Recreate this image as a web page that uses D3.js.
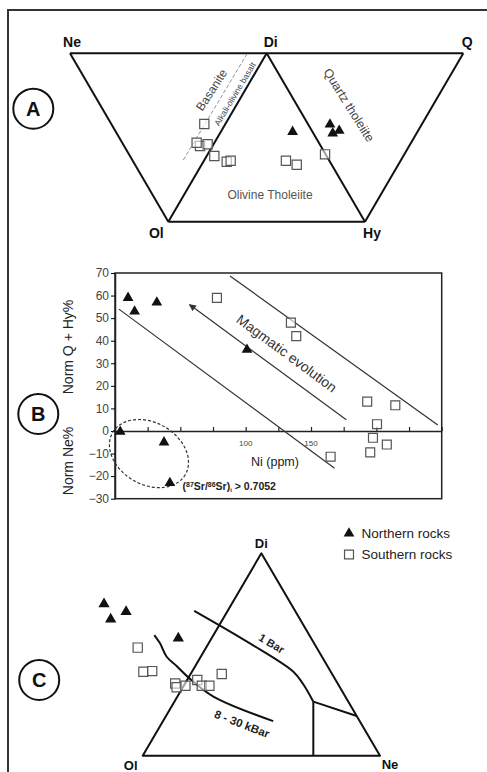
<!DOCTYPE html>
<html><head><meta charset="utf-8">
<script src="https://cdn.jsdelivr.net/npm/d3@7"></script>
<style>
html,body{margin:0;padding:0;background:#fff;}
svg{display:block;font-family:"Liberation Sans",Arial,sans-serif;}
</style></head>
<body>
<svg id="c" width="487" height="772"></svg>
<script>
// ---------------- DATA ----------------
// Panel A: projection coordinates (x: Ne=-100 .. Di=0 .. Q=100 ; y: Ol/Hy base=0 .. Di=100)
const aNorthX = [13.2, 32.2, 33.6, 36.9];
const aNorthY = [53.4, 57.8, 52.5, 54.0];
const aSouthX = [-31.7, -33.9, -35.6, -30.0, -26.6, -20.3, -18.3, 9.8, 15.3, 29.7];
const aSouthY = [58.0, 45.0, 46.9, 46.0, 39.0, 35.6, 36.2, 36.2, 33.8, 40.0];
const aVertexNames = ["Ne", "Di", "Q", "Ol", "Hy"];
const aVertexX = [-100, 0, 100, -50, 50];
const aVertexY = [100, 100, 100, 0, 0];
const aDashX = [-42.4, -9.8];
const aDashY = [36.6, 100];

// Panel B: Ni (ppm) vs Norm Q+Hy% (positive) / Norm Ne% (negative)
const bNorthNi = [10, 15, 32, 101, 4, 37.5, 42];
const bNorthNorm = [59, 53, 57, 36, -0.3, -5, -23];
const bSouthNi = [78, 134.6, 138.7, 193, 214.5, 200.5, 197.4, 195.3, 208, 165];
const bSouthNorm = [59, 48, 42, 13, 11.4, 3, -3, -9.5, -6, -11.4];
const bYTicks = [70, 60, 50, 40, 30, 20, 10, 0, -10, -20, -30];
const bXTicks = [0, 25, 50, 75, 100, 125, 150, 175, 200, 225, 250];
const bXTickLabels = [100, 150];
const bLowerLineNi = [3, 168], bLowerLineNorm = [54, -16.5];
const bArrowNi = [177, 57], bArrowNorm = [5, 56];
const bUpperLineNi = [88, 247], bUpperLineNorm = [68.7, 2.7];
const bEllipseNi = 26, bEllipseNorm = -10;

// Panel C: projection coordinates (x: Ol=0 .. Ne=100 ; y: base=0 .. Di=100)
const cNorthX = [-16.3, -7.0, -13.5, 15.0];
const cNorthY = [75.0, 71.1, 67.4, 58.0];
const cSouthX = [-2.1, 0.3, 4.0, 13.7, 14.3, 18.0, 23.0, 24.9, 28.1, 33.3];
const cSouthY = [53.4, 41.5, 41.8, 35.7, 33.8, 34.6, 37.4, 34.6, 34.6, 40.4];
const cVertexNames = ["Di", "Ol", "Ne"];
const cVertexX = [50, 0, 100];
const cVertexY = [100, 0, 0];
const c1BarX = [21.7, 45.2, 63.5, 67.6, 71.9];
const c1BarY = [71.6, 55.5, 41.5, 35.4, 26.7];
const cVertX = [71.9, 71.9], cVertY = [26.7, 0];
const cBranchX = [71.9, 90.2], cBranchY = [26.7, 19.6];
const cKbarX = [4.9, 7.3, 10.1, 14.3, 19.2, 29.8, 55.0];
const cKbarY = [59.6, 55.5, 48.9, 44.3, 38.7, 29.2, 17.1];

const legendLabels = ["Northern rocks", "Southern rocks"];

// ---------------- DRAW ----------------
const svg = d3.select("#c");
const INK = "#111";

// outer frame
svg.append("path").attr("d", "M8,772 L8,10 L487,10")
  .attr("fill", "none").attr("stroke", "#333").attr("stroke-width", 2);

function panelLetter(cx, cy, letter) {
  svg.append("circle").attr("cx", cx).attr("cy", cy).attr("r", 20)
    .attr("fill", "#fff").attr("stroke", INK).attr("stroke-width", 2);
  svg.append("text").attr("x", cx).attr("y", cy + 7).attr("text-anchor", "middle")
    .attr("font-size", 20).attr("font-weight", "bold").attr("fill", INK).text(letter);
}

function drawTri(g, xs, ys, sx, sy, size) {
  g.selectAll(null).data(xs).enter().append("path")
    .attr("d", d3.symbol().type(d3.symbolTriangle).size(size || 46)())
    .attr("transform", (d, i) => `translate(${sx(d)},${sy(ys[i])})`)
    .attr("fill", INK);
}
function drawSq(g, xs, ys, sx, sy, size) {
  g.selectAll(null).data(xs).enter().append("path")
    .attr("d", d3.symbol().type(d3.symbolSquare).size(size || 78)())
    .attr("transform", (d, i) => `translate(${sx(d)},${sy(ys[i])})`)
    .attr("fill", "#fff").attr("fill-opacity", 0.6).attr("stroke", "#555").attr("stroke-width", 1.2);
}

// ===== Panel A =====
const xA = d3.scaleLinear().domain([-100, 100]).range([70, 463.3]);
const yA = d3.scaleLinear().domain([0, 100]).range([221.7, 53.3]);
const gA = svg.append("g");
const vA = {};
aVertexNames.forEach((n, i) => vA[n] = [xA(aVertexX[i]), yA(aVertexY[i])]);
const lineA = d3.line();
[["Ne", "Q"], ["Ne", "Ol"], ["Ol", "Hy"], ["Hy", "Q"], ["Ol", "Di"], ["Di", "Hy"]].forEach(([p, q]) => {
  gA.append("path").attr("d", lineA([vA[p], vA[q]])).attr("stroke", INK)
    .attr("stroke-width", 2).attr("fill", "none").attr("stroke-linejoin", "round");
});
gA.append("path").attr("d", lineA(aDashX.map((d, i) => [xA(d), yA(aDashY[i])])))
  .attr("stroke", "#777").attr("stroke-width", 0.8).attr("stroke-dasharray", "4,2").attr("fill", "none");
const aLabOff = { Ne: [2, -6], Di: [4, -6], Q: [4, -6], Ol: [-12, 16], Hy: [7, 16] };
aVertexNames.forEach(n => {
  gA.append("text").attr("x", vA[n][0] + aLabOff[n][0]).attr("y", vA[n][1] + aLabOff[n][1])
    .attr("text-anchor", "middle").attr("font-size", 14).attr("font-weight", "bold").attr("fill", INK).text(n);
});
gA.append("text").attr("transform", "translate(211.5,90) rotate(-57)").attr("text-anchor", "middle")
  .attr("dy", "0.35em").attr("font-size", 12).attr("fill", "#444").text("Basanite");
gA.append("text").attr("transform", "translate(235,94) rotate(-59)").attr("text-anchor", "middle")
  .attr("dy", "0.35em").attr("font-size", 8.5).attr("fill", "#444").text("Alkali-olivine basalt");
gA.append("text").attr("transform", "translate(349,105) rotate(58)").attr("text-anchor", "middle")
  .attr("dy", "0.35em").attr("font-size", 12.5).attr("fill", "#444").text("Quartz tholeiite");
gA.append("text").attr("x", 270).attr("y", 199).attr("text-anchor", "middle")
  .attr("font-size", 12).attr("fill", "#555").text("Olivine Tholeiite");
drawSq(gA, aSouthX, aSouthY, xA, yA, 85);
drawTri(gA, aNorthX, aNorthY, xA, yA, 50);
panelLetter(33.3, 108.7, "A");

// ===== Panel B =====
const xB = d3.scaleLinear().domain([0, 250]).range([115, 441.7]);
const yB = d3.scaleLinear().domain([-30, 70]).range([498.7, 273]);
const gB = svg.append("g");
gB.append("rect").attr("x", xB(0)).attr("y", yB(70)).attr("width", xB(250) - xB(0))
  .attr("height", yB(-30) - yB(70)).attr("fill", "none").attr("stroke", "#222").attr("stroke-width", 1.5);
// y axis
const yAxis = d3.axisLeft(yB).tickValues(bYTicks).tickSize(4).tickSizeOuter(0).tickPadding(2)
  .tickFormat(d3.format("d"));
const yAxG = gB.append("g").attr("transform", `translate(${xB(0)},0)`).call(yAxis);
yAxG.select(".domain").attr("stroke", "#222").attr("stroke-width", 1.5);
yAxG.selectAll("text").attr("font-size", 12).attr("fill", "#444")
  .attr("font-family", "Liberation Sans, Arial, sans-serif");
// x axis along y=0
const xAxis = d3.axisTop(xB).tickValues(bXTicks).tickSize(4).tickSizeOuter(0).tickFormat("");
const xAxG = gB.append("g").attr("transform", `translate(0,${yB(0)})`).call(xAxis);
xAxG.select(".domain").attr("stroke", "#222").attr("stroke-width", 1.5);
xAxG.selectAll(".tick line").attr("stroke", "#222").attr("stroke-width", 1.2);
gB.selectAll(null).data(bXTickLabels).enter().append("text")
  .attr("x", d => xB(d)).attr("y", yB(0) + 15).attr("text-anchor", "middle")
  .attr("font-size", 8).attr("fill", "#444").text(d => d);
gB.append("text").attr("x", 275).attr("y", 466).attr("text-anchor", "middle")
  .attr("font-size", 12.5).attr("fill", "#222").text("Ni (ppm)");
gB.append("text").attr("transform", "translate(73,347) rotate(-90)").attr("text-anchor", "middle")
  .attr("font-size", 14).attr("fill", "#222").text("Norm Q + Hy%");
gB.append("text").attr("transform", "translate(73,461) rotate(-90)").attr("text-anchor", "middle")
  .attr("font-size", 14).attr("fill", "#222").text("Norm Ne%");
// trend lines
const lB = d3.line().x(d => xB(d[0])).y(d => yB(d[1]));
gB.append("path").attr("d", lB(bLowerLineNi.map((d, i) => [d, bLowerLineNorm[i]])))
  .attr("stroke", "#333").attr("stroke-width", 1.2).attr("fill", "none");
gB.append("path").attr("d", lB(bUpperLineNi.map((d, i) => [d, bUpperLineNorm[i]])))
  .attr("stroke", "#333").attr("stroke-width", 1.2).attr("fill", "none");
svg.append("defs").append("marker").attr("id", "arr").attr("viewBox", "0 0 10 10")
  .attr("refX", 9).attr("refY", 5).attr("markerWidth", 9).attr("markerHeight", 7)
  .attr("markerUnits", "userSpaceOnUse").attr("orient", "auto")
  .append("path").attr("d", "M0,0 L10,5 L0,10 z").attr("fill", "#333");
gB.append("path").attr("d", lB(bArrowNi.map((d, i) => [d, bArrowNorm[i]])))
  .attr("stroke", "#333").attr("stroke-width", 1.2).attr("fill", "none").attr("marker-end", "url(#arr)");
const magAng = Math.atan2(yB(bLowerLineNorm[1]) - yB(bLowerLineNorm[0]), xB(bLowerLineNi[1]) - xB(bLowerLineNi[0])) * 180 / Math.PI;
gB.append("text").attr("transform", `translate(${xB(131.4)},${yB(34.4)}) rotate(${magAng})`)
  .attr("text-anchor", "middle").attr("dy", "0.35em").attr("font-size", 14).attr("fill", "#333")
  .text("Magmatic evolution");
// dashed ellipse
gB.append("ellipse").attr("cx", 0).attr("cy", 0).attr("rx", 42).attr("ry", 31)
  .attr("transform", `translate(${xB(bEllipseNi)},${yB(bEllipseNorm)}) rotate(30)`)
  .attr("fill", "none").attr("stroke", "#333").attr("stroke-width", 1.2).attr("stroke-dasharray", "3,2");
const srT = gB.append("text").attr("x", 182.5).attr("y", 490).attr("font-size", 10.5)
  .attr("font-weight", "bold").attr("fill", "#222");
srT.append("tspan").text("(");
srT.append("tspan").attr("font-size", 7).attr("dy", -3).text("87");
srT.append("tspan").attr("dy", 3).text("Sr/");
srT.append("tspan").attr("font-size", 7).attr("dy", -3).text("86");
srT.append("tspan").attr("dy", 3).text("Sr)");
srT.append("tspan").attr("font-size", 6).attr("dy", 2).text("i");
srT.append("tspan").attr("dy", -2).text(" > 0.7052");
drawSq(gB, bSouthNi, bSouthNorm, xB, yB, 80);
drawTri(gB, bNorthNi, bNorthNorm, xB, yB, 50);
panelLetter(38.3, 414, "B");

// ===== Panel C =====
const xC = d3.scaleLinear().domain([0, 100]).range([142.7, 380]);
const yC = d3.scaleLinear().domain([0, 100]).range([755.7, 553.3]);
const gC = svg.append("g");
const vC = {};
cVertexNames.forEach((n, i) => vC[n] = [xC(cVertexX[i]), yC(cVertexY[i])]);
gC.append("path").attr("d", d3.line()([vC.Di, vC.Ol, vC.Ne]) + "Z")
  .attr("fill", "none").attr("stroke", INK).attr("stroke-width", 2).attr("stroke-linejoin", "round");
const lC = d3.line().x(d => xC(d[0])).y(d => yC(d[1]));
gC.append("path").attr("d", lC.curve(d3.curveCatmullRom)(c1BarX.map((d, i) => [d, c1BarY[i]])))
  .attr("fill", "none").attr("stroke", INK).attr("stroke-width", 2);
gC.append("path").attr("d", d3.line().x(d => xC(d[0])).y(d => yC(d[1]))(cVertX.map((d, i) => [d, cVertY[i]])))
  .attr("fill", "none").attr("stroke", INK).attr("stroke-width", 2);
gC.append("path").attr("d", d3.line().x(d => xC(d[0])).y(d => yC(d[1]))(cBranchX.map((d, i) => [d, cBranchY[i]])))
  .attr("fill", "none").attr("stroke", INK).attr("stroke-width", 2);
gC.append("path").attr("d", d3.line().x(d => xC(d[0])).y(d => yC(d[1])).curve(d3.curveCatmullRom)(cKbarX.map((d, i) => [d, cKbarY[i]])))
  .attr("fill", "none").attr("stroke", INK).attr("stroke-width", 2);
const cLabOff = { Di: [0, -5], Ol: [-12, 14], Ne: [10, 13] };
cVertexNames.forEach(n => {
  gC.append("text").attr("x", vC[n][0] + cLabOff[n][0]).attr("y", vC[n][1] + cLabOff[n][1])
    .attr("text-anchor", "middle").attr("font-size", 13).attr("font-weight", "bold").attr("fill", INK).text(n);
});
gC.append("text").attr("transform", "translate(271.5,643.5) rotate(31)").attr("text-anchor", "middle")
  .attr("dy", "0.35em").attr("font-size", 11).attr("font-weight", "bold").attr("fill", "#222").text("1 Bar");
gC.append("text").attr("transform", "translate(242,724) rotate(21)").attr("text-anchor", "middle")
  .attr("dy", "0.35em").attr("font-size", 11.5).attr("font-weight", "bold").attr("fill", "#222").text("8 - 30 kBar");
drawSq(gC, cSouthX, cSouthY, xC, yC, 85);
drawTri(gC, cNorthX, cNorthY, xC, yC, 55);
panelLetter(39.2, 680, "C");

// legend
const legY = d3.scaleBand().domain(legendLabels).range([522, 564]);
const lg = svg.append("g");
lg.append("path").attr("d", d3.symbol().type(d3.symbolTriangle).size(50)())
  .attr("transform", `translate(349,${legY(legendLabels[0]) + legY.bandwidth() / 2 + 1})`).attr("fill", INK);
lg.append("path").attr("d", d3.symbol().type(d3.symbolSquare).size(80)())
  .attr("transform", `translate(349,${legY(legendLabels[1]) + legY.bandwidth() / 2 + 1})`)
  .attr("fill", "#fff").attr("stroke", "#555").attr("stroke-width", 1.2);
lg.selectAll(null).data(legendLabels).enter().append("text")
  .attr("x", 361.5).attr("y", d => legY(d) + legY.bandwidth() / 2 + 5)
  .attr("font-size", 13.5).attr("fill", "#222").text(d => d);
</script>
</body></html>
